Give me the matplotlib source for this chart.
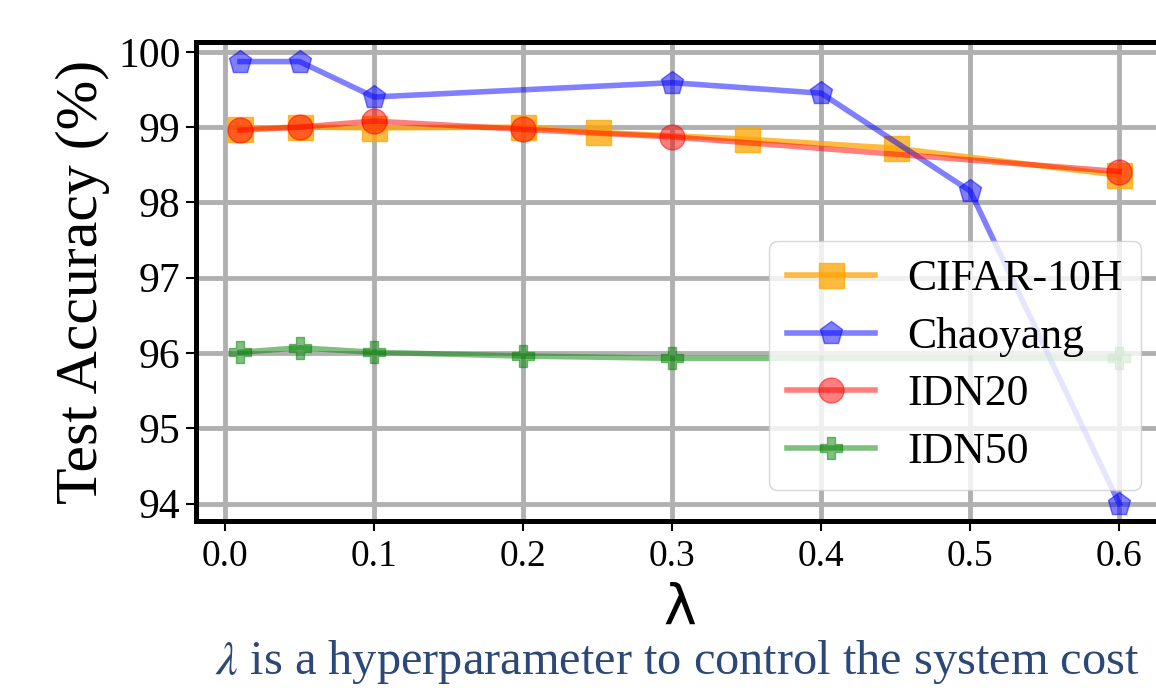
import numpy as np
import matplotlib
matplotlib.use('Agg')
import matplotlib.pyplot as plt

# data
cifar_x = [0.01, 0.05, 0.1, 0.2, 0.25, 0.35, 0.45, 0.6]
cifar_y = [98.98, 99.00, 98.99, 99.00, 98.93, 98.84, 98.72, 98.36]

chao_x = [0.01, 0.05, 0.1, 0.3, 0.4, 0.5, 0.6]
chao_y = [99.87, 99.87, 99.40, 99.59, 99.45, 98.15, 94.00]

idn20_x = [0.01, 0.05, 0.1, 0.2, 0.3, 0.6]
idn20_y = [98.96, 99.00, 99.08, 98.97, 98.87, 98.41]

idn50_x = [0.01, 0.05, 0.1, 0.2, 0.3, 0.6]
idn50_y = [96.01, 96.07, 96.01, 95.96, 95.93, 95.93]

x_ticks = [0.0, 0.1, 0.2, 0.3, 0.4, 0.5, 0.6]
y_ticks = [94, 95, 96, 97, 98, 99, 100]

plt.rcParams['font.family'] = ['Liberation Serif', 'DejaVu Serif']
plt.rcParams['mathtext.fontset'] = 'stix'

fig = plt.figure(figsize=(11.56, 6.9), dpi=100)
ax = fig.add_axes([196 / 1156, 1 - 521 / 690, 968 / 1156, 479 / 690])

ax.plot(cifar_x, cifar_y, color='orange', marker='s', markersize=18,
        linewidth=4, alpha=0.75, label='CIFAR-10H')
ax.plot(chao_x, chao_y, color='blue', marker='p', markersize=17,
        linewidth=4, alpha=0.5, label='Chaoyang')
ax.plot(idn20_x, idn20_y, color='red', marker='o', markersize=18,
        linewidth=4, alpha=0.5, label='IDN20')
ax.plot(idn50_x, idn50_y, color='green', marker='P', markersize=16,
        linewidth=4, alpha=0.5, label='IDN50')

ax.set_xlim(-0.0195, 0.63)
ax.set_ylim(93.77, 100.13)
ax.set_xticks(x_ticks)
ax.set_yticks(y_ticks)
ax.tick_params(axis='x', labelsize=27, length=7, width=1.5, pad=6)
ax.tick_params(axis='y', labelsize=30, length=7, width=1.5, pad=4)

ax.grid(True, color='#b0b0b0', linewidth=3.5)
ax.set_axisbelow(True)
for side in ['top', 'bottom', 'left', 'right']:
    ax.spines[side].set_linewidth(3.6)

ax.set_ylabel('Test Accuracy (%)', fontsize=43, labelpad=6)
ax.set_xlabel('λ', fontsize=40, family=['DejaVu Sans'], labelpad=6)

leg = ax.legend(loc='upper left', bbox_to_anchor=(769 / 1156, 1 - 241 / 690),
                bbox_transform=fig.transFigure, borderaxespad=0,
                fontsize=31.5, handlelength=2.0, handletextpad=0.75,
                labelspacing=0.4, framealpha=0.8, borderpad=0.42)

fig.text(215 / 1156, 1 - 662 / 690, r'$\lambda$ is a hyperparameter to control the system cost',
         fontsize=34.8, color='#2c4877', ha='left', va='center')

fig.savefig('out.png', dpi=100)
